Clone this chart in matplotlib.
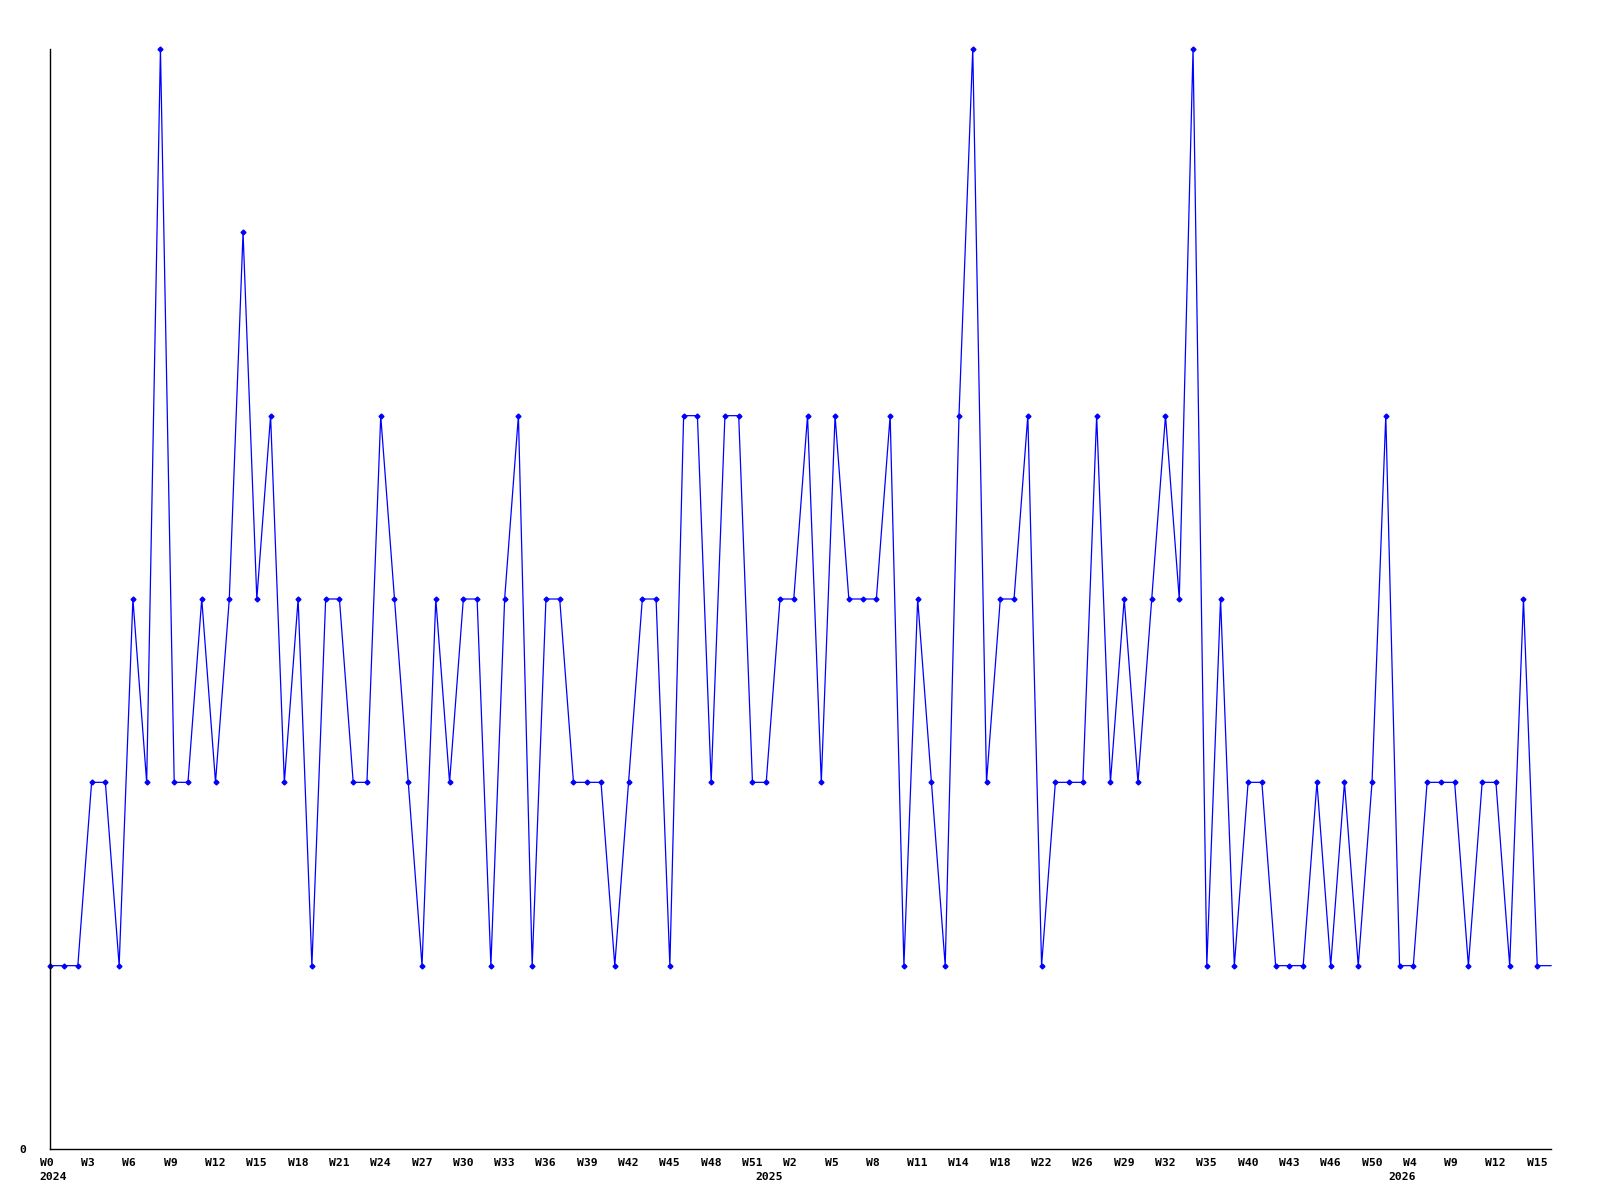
import matplotlib
matplotlib.use("Agg")
import matplotlib.pyplot as plt
import matplotlib.transforms as mtransforms

# weekly counts, one value per point
values = [1, 1, 1, 2, 2, 1, 3, 2, 6, 2,
          2, 3, 2, 3, 5, 3, 4, 2, 3, 1,
          3, 3, 2, 2, 4, 3, 2, 1, 3, 2,
          3, 3, 1, 3, 4, 1, 3, 3, 2, 2,
          2, 1, 2, 3, 3, 1, 4, 4, 2, 4,
          4, 2, 2, 3, 3, 4, 2, 4, 3, 3,
          3, 4, 1, 3, 2, 1, 4, 6, 2, 3,
          3, 4, 1, 2, 2, 2, 4, 2, 3, 2,
          3, 4, 3, 6, 1, 3, 1, 2, 2, 1,
          1, 1, 2, 1, 2, 1, 2, 4, 1, 1,
          2, 2, 2, 1, 2, 2, 1, 3, 1, 1]

# tick labels, one every 3 points
week_labels = ["W0", "W3", "W6", "W9", "W12", "W15", "W18", "W21", "W24",
               "W27", "W30", "W33", "W36", "W39", "W42", "W45", "W48", "W51",
               "W2", "W5", "W8", "W11", "W14", "W18", "W22", "W26", "W29",
               "W32", "W35", "W40", "W43", "W46", "W50",
               "W4", "W9", "W12", "W15"]
tick_step = 3

years = ["2024", "2025", "2026"]
year_idx = [0, 52, 98]

x = list(range(len(values)))

fig = plt.figure(figsize=(16, 12), dpi=100)
ax = fig.add_axes([50.3 / 1600, 1 - 1149 / 1200, (1551 - 50.3) / 1600, 1100 / 1200])

ax.plot(x, values, color="#0000ff", lw=0.9, marker="D", ms=2.5,
        markevery=list(range(len(values) - 1)), clip_on=False)

ax.set_xlim(0, len(values) - 1)
ax.set_ylim(0, 6)

for s in ["top", "right"]:
    ax.spines[s].set_visible(False)
for s in ["left", "bottom"]:
    ax.spines[s].set_linewidth(1.0)
    ax.spines[s].set_color("black")

font = dict(family="DejaVu Sans Mono", weight="bold", size=8.2)

ticks = [i * tick_step for i in range(len(week_labels))]
ax.set_xticks(ticks)
ax.set_xticklabels(week_labels, ha="left", **font)
ax.tick_params(axis="x", length=0, pad=6.5)
off = mtransforms.ScaledTranslation(-10.5 / 100, 0, fig.dpi_scale_trans)
for lab in ax.get_xticklabels():
    lab.set_transform(lab.get_transform() + off)

ax.set_yticks([0])
ax.set_yticklabels(["0"], **font)
ax.tick_params(axis="y", length=0, pad=17)

ytrans = mtransforms.blended_transform_factory(ax.transData, fig.transFigure)
for yr, idx in zip(years, year_idx):
    t = ax.text(idx, 1 - 1177 / 1200, yr, ha="center", va="center",
                transform=ytrans, **font)
    t.set_transform(ytrans + mtransforms.ScaledTranslation(3 / 100, 0, fig.dpi_scale_trans))

fig.savefig("out.png", dpi=100)
